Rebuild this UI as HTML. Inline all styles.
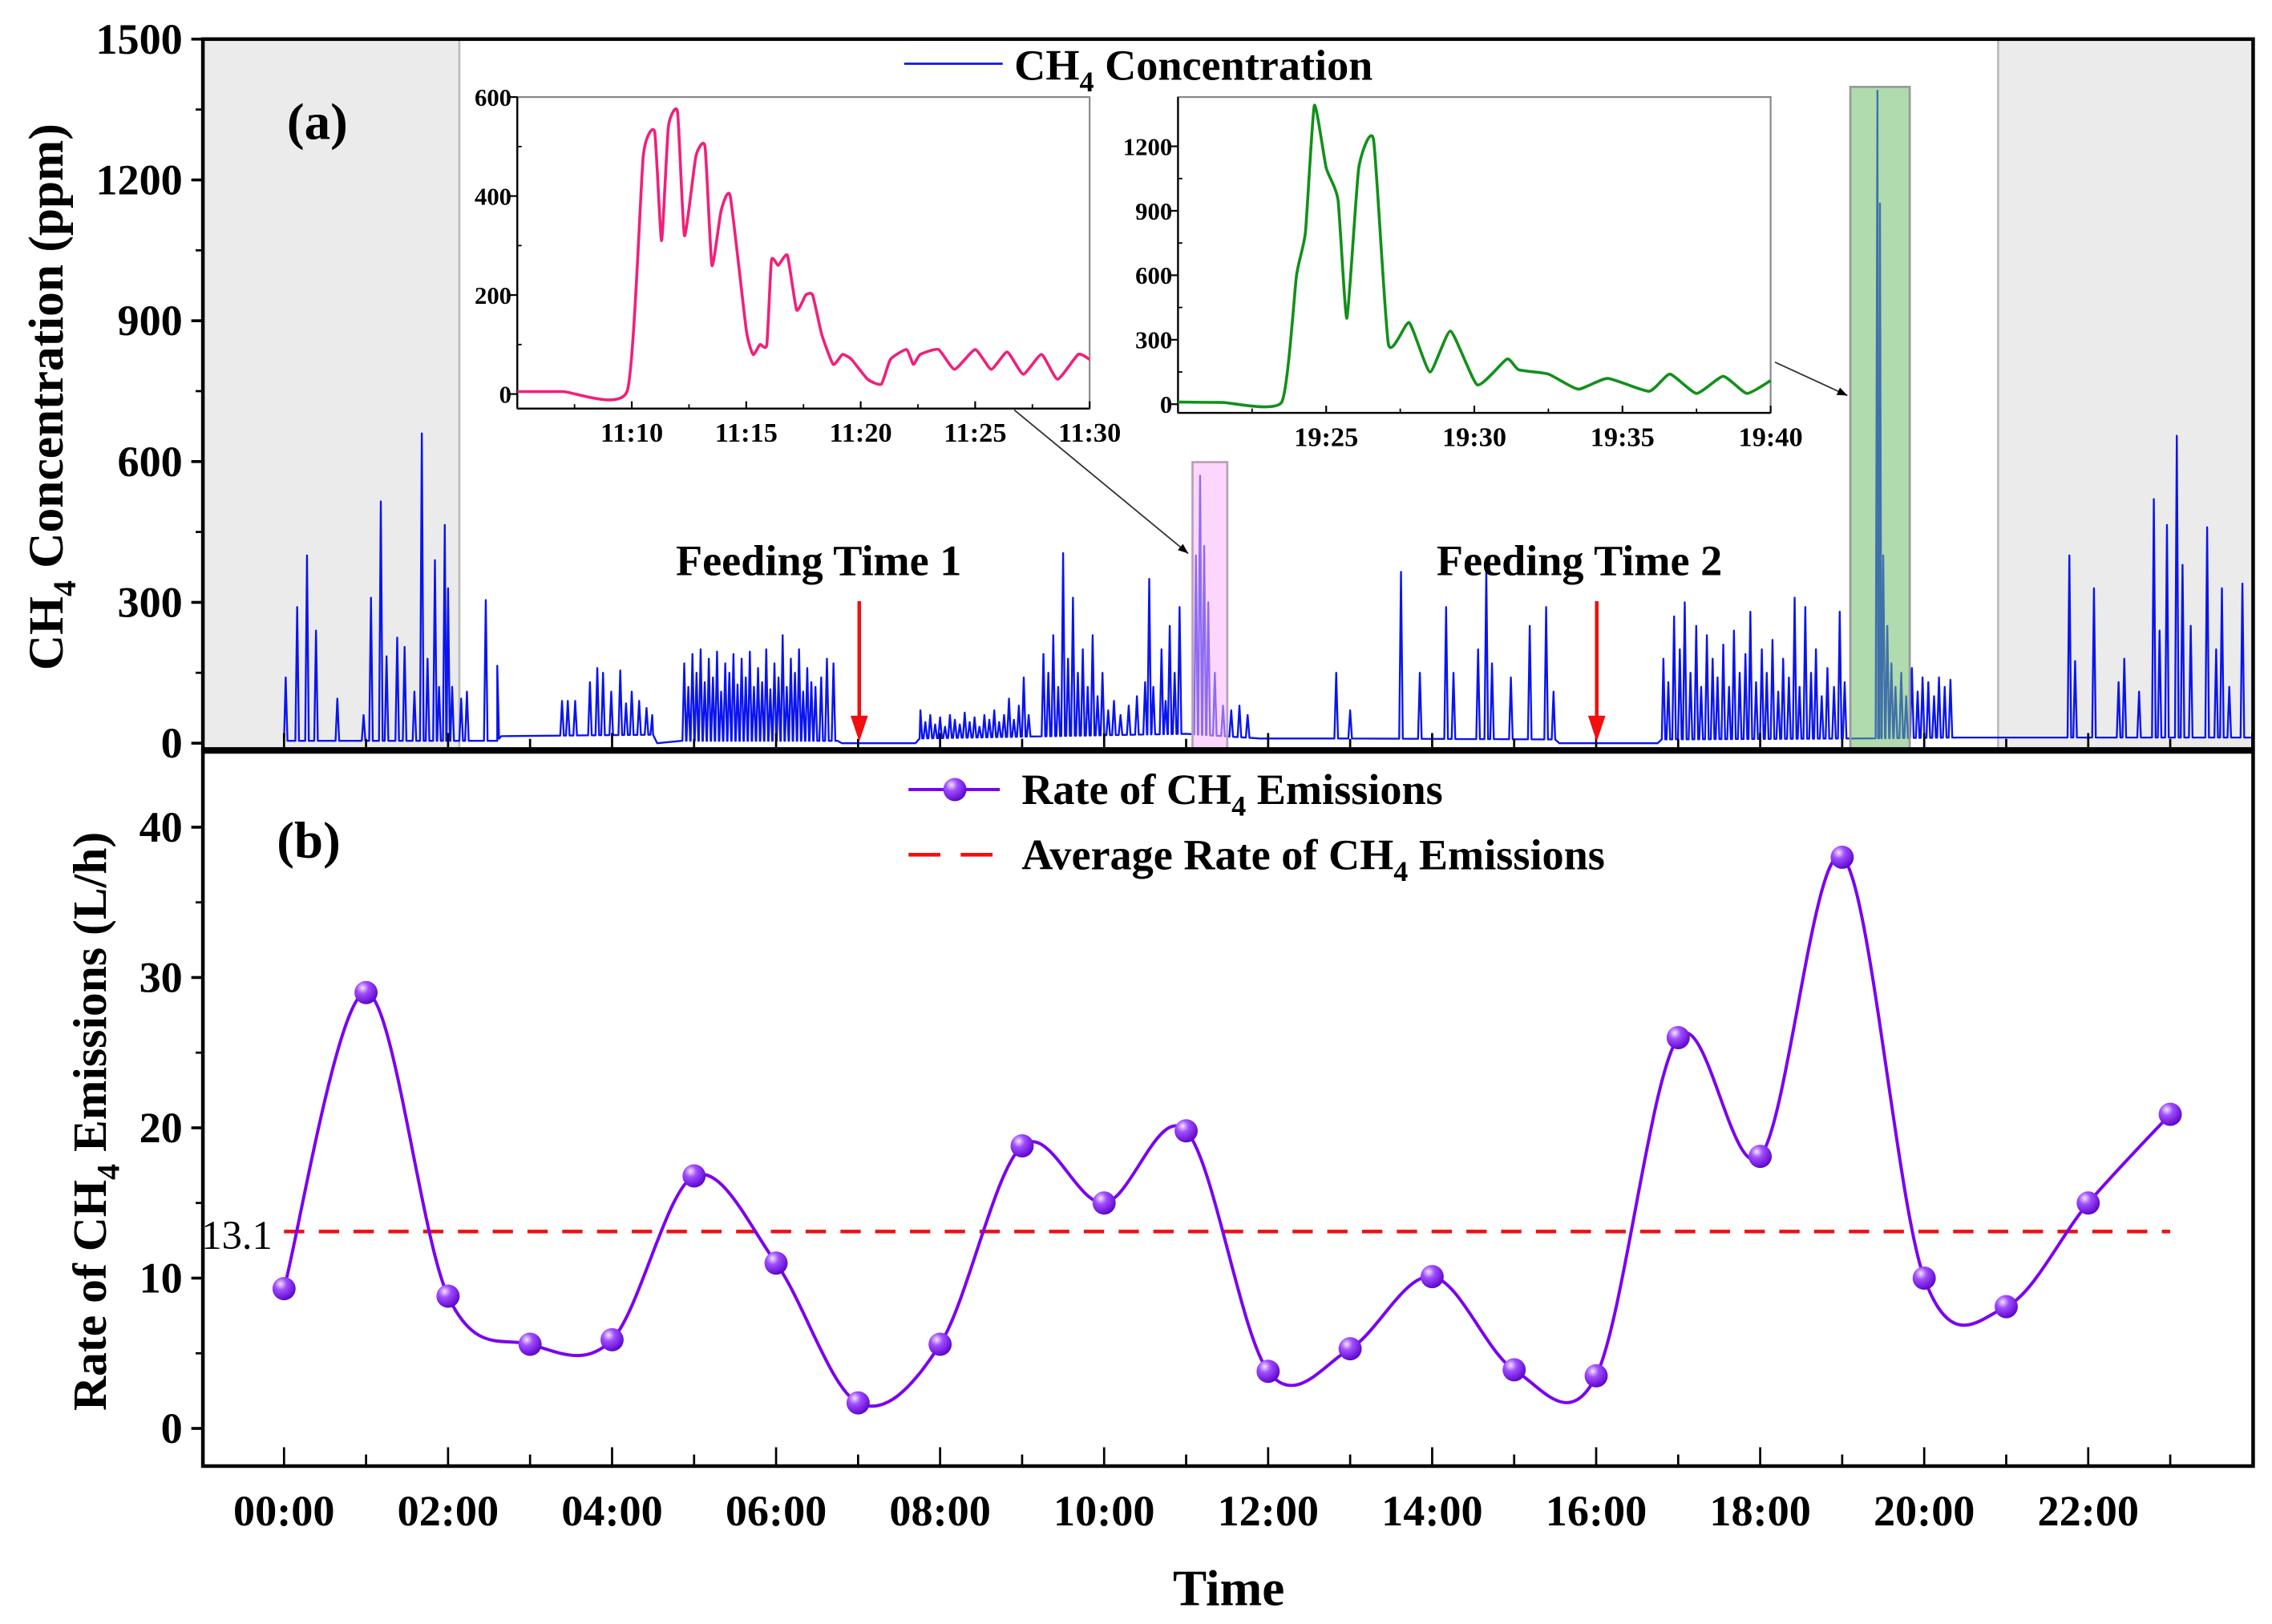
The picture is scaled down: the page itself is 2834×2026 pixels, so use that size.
<!DOCTYPE html>
<html><head><meta charset="utf-8"><style>
html,body{margin:0;padding:0;background:#fff}
svg{display:block}
text{font-family:"Liberation Serif",serif;font-weight:bold;fill:#000}
</style></head><body>
<svg id="chart" xmlns="http://www.w3.org/2000/svg" width="2834" height="2026" viewBox="0 0 1568 1121">
<g id="pa"></g>
<g id="pb"></g>
</svg>
<script>
// ---- Panel (a) data: CH4 concentration (ppm) ----
const baseHours = [0,2.6,2.65,4.5,4.55,4.85,6.75,6.8,7.7,7.75,11.0,11.9,12.9,15.5,15.55,16.75,16.8,19.1,20.4,21.6,24];
const baseValues = [5,5,15,18,0,5,5,0,0,10,20,10,10,8,0,0,8,10,12,12,12];
const spikeHours = [0.02,0.16,0.28,0.39,0.65,0.97,1.06,1.18,1.25,1.38,1.47,1.59,1.68,1.75,1.84,1.89,1.96,2.0,2.05,2.16,2.23,2.46,2.60,
3.39,3.46,3.55,3.73,3.82,3.89,3.99,4.10,4.17,4.24,4.33,4.42,4.49,
4.88,4.93,4.98,5.03,5.08,5.13,5.18,5.23,5.28,5.33,5.38,5.43,5.48,5.53,5.58,5.63,5.68,5.73,5.78,5.83,5.88,5.93,5.98,6.03,6.08,6.13,6.18,6.23,6.28,6.33,6.38,6.43,6.48,6.55,6.62,6.70,
7.76,7.82,7.88,7.94,8.00,8.06,8.12,8.18,8.24,8.30,8.36,8.42,8.48,8.54,8.60,8.66,8.72,8.78,8.84,8.90,8.96,9.02,9.08,
9.26,9.32,9.38,9.44,9.50,9.56,9.62,9.68,9.74,9.80,9.86,9.92,9.98,10.05,10.12,10.2,10.3,10.4,10.5,10.55,10.6,10.7,10.75,10.8,10.86,10.92,
11.12,11.17,11.22,11.27,11.35,11.45,11.55,11.65,11.75,
12.83,13.0,13.62,13.85,14.17,14.26,14.56,14.66,14.73,14.96,15.19,15.39,15.48,
16.82,16.88,16.95,17.02,17.08,17.15,17.22,17.28,17.35,17.42,17.48,17.55,17.62,17.68,17.75,17.82,17.88,17.95,18.02,18.08,18.15,18.22,18.28,18.35,18.42,18.48,18.55,18.62,18.68,18.75,18.82,18.9,18.97,19.03,
19.43,19.46,19.5,19.55,19.6,19.65,19.72,19.78,19.85,19.92,19.98,20.05,20.12,20.18,20.25,20.32,
21.77,21.84,22.07,22.37,22.44,22.62,22.8,22.87,22.96,23.08,23.15,23.25,23.45,23.56,23.63,23.72,23.88];
const spikeValues = [140,290,400,240,95,60,310,515,185,225,205,110,660,180,390,120,465,330,120,95,110,305,165,
90,90,90,130,160,150,110,155,85,110,90,75,60,
170,120,190,150,200,130,180,140,195,110,170,150,190,125,180,140,195,120,160,130,200,115,170,140,230,120,180,150,200,110,160,130,120,140,180,170,
70,45,60,40,55,35,60,50,40,65,45,55,35,60,50,70,45,60,95,50,80,140,60,
190,150,230,120,405,180,310,150,200,120,230,100,150,70,90,60,80,100,130,350,120,200,90,250,150,290,
400,570,420,300,150,80,70,80,60,
150,70,365,150,290,150,200,370,170,140,250,290,110,
180,130,270,200,300,150,250,120,230,180,140,210,120,240,150,190,280,130,200,150,220,110,180,140,310,120,290,150,200,100,160,120,280,130,
1390,1150,400,250,170,120,150,100,160,110,140,130,100,140,120,135,
400,175,330,130,180,110,520,240,465,655,380,250,460,200,330,120,340];
const yTicksA = [0,300,600,900,1200,1500];
const xTickLabels = ["00:00","02:00","04:00","06:00","08:00","10:00","12:00","14:00","16:00","18:00","20:00","22:00"];
// inset 1 (minutes after 11:00)
const in1Min = [5,7,9.8,10.5,11,11.3,11.6,12,12.3,12.8,13.2,13.5,13.9,14.3,15,15.3,15.6,15.9,16.1,16.4,16.8,17.2,17.6,17.9,18.3,18.8,19.2,19.6,20.3,20.9,21.3,22,22.3,22.6,23.4,24.1,25,25.7,26.4,27.1,27.9,28.6,29.5,30];
const in1Val = [5,5,6,480,530,310,540,570,320,480,500,260,370,400,130,80,100,100,270,260,280,170,200,200,120,60,80,70,30,20,70,90,60,80,90,50,90,50,85,40,80,30,80,70];
const in1YTicks = [0,200,400,600];
const in1XTicks = ["11:10","11:15","11:20","11:25","11:30"];
// inset 2 (minutes after 19:00)
const in2Min = [20,21.5,23.5,24.0,24.3,24.6,25.0,25.4,25.7,26.1,26.6,27.1,27.8,28.5,29.2,30.1,31.1,31.5,32.5,33.5,34.5,35.9,36.6,37.5,38.4,39.2,40];
const in2Val = [10,8,10,600,800,1390,1100,950,400,1100,1230,280,380,150,340,90,210,160,140,70,120,60,140,50,130,50,110];
const in2YTicks = [0,300,600,900,1200];
const in2XTicks = ["19:25","19:30","19:35","19:40"];
// ---- Panel (b) data: emission rate (L/h) ----
const rateHours = [0,1,2,3,4,5,6,7,8,9,10,11,12,13,14,15,16,17,18,19,20,21,22,23];
const rateValues = [9.3,29,8.8,5.6,5.9,16.8,11,1.7,5.6,18.8,15,19.8,3.8,5.3,10.1,3.9,3.5,26,18.1,38,10,8.1,15,20.9];
const averageRate = [13.1];
const yTicksB = [0,10,20,30,40];

const NS="http://www.w3.org/2000/svg";
function mk(tag,attrs,parent){const e=document.createElementNS(NS,tag);for(const k in attrs)e.setAttribute(k,attrs[k]);parent.appendChild(e);return e;}
const pa=document.getElementById('pa'), pb=document.getElementById('pb');
const L=140,R=1555;
const xH=h=>196+h*56.6;
const yA=v=>513-v*(486/1500);
const yB=v=>986-v*10.375;

const defs=mk('defs',{},document.getElementById('chart'));
const rg=mk('radialGradient',{id:'ball',cx:'0.35',cy:'0.3',r:'0.75'},defs);
mk('stop',{offset:'0','stop-color':'#f4e6ff'},rg);mk('stop',{offset:'0.35','stop-color':'#a04dff'},rg);mk('stop',{offset:'1','stop-color':'#5a00c8'},rg);
const mkr=mk('marker',{id:'ah',viewBox:'0 0 10 10',refX:'10',refY:'5',markerWidth:'7',markerHeight:'7',orient:'auto-start-reverse'},defs);
mk('path',{d:'M0,1 L10,5 L0,9 z',fill:'#000'},mkr);

let e=mk('rect',{x:L,y:27,width:177,height:490,fill:'#ebebeb',stroke:'#bbb','stroke-width':1.5},pa);

e=mk('rect',{x:1379,y:27,width:176,height:490,fill:'#ebebeb',stroke:'#bbb','stroke-width':1.5},pa);


function baseAt(h){for(let i=0;i<baseHours.length-1;i++){if(h>=baseHours[i]&&h<=baseHours[i+1]){const t=(h-baseHours[i])/(baseHours[i+1]-baseHours[i]);return baseValues[i]+t*(baseValues[i+1]-baseValues[i]);}}return baseValues[baseValues.length-1];}
let pts=[];for(let i=0;i<baseHours.length;i++)pts.push([baseHours[i],baseValues[i]]);
const hw=0.022;
for(let i=0;i<spikeHours.length;i++){const h=spikeHours[i];pts.push([h-hw,baseAt(h-hw)]);pts.push([h,spikeValues[i]]);pts.push([h+hw,baseAt(h+hw)]);}
pts.sort((a,b)=>a[0]-b[0]);
e=mk('path',{d:'M'+pts.map(p=>xH(Math.max(0,Math.min(24,p[0]))).toFixed(2)+','+yA(p[1]).toFixed(2)).join('L'),fill:'none',stroke:'#0a14f0','stroke-width':1.3,'stroke-linejoin':'round'},pa);


e=mk('rect',{x:823,y:319,width:24,height:198,fill:'rgba(250,180,250,0.55)',stroke:'#b8a0b8','stroke-width':1.5},pa);

e=mk('rect',{x:1277,y:60,width:41,height:457,fill:'rgba(110,190,110,0.55)',stroke:'#999','stroke-width':1.5},pa);


e=mk('rect',{x:L,y:27,width:R-L,height:490,fill:'none',stroke:'#000','stroke-width':2.5},pa);

for(const v of yTicksA){mk('line',{x1:L,x2:L-8,y1:yA(v),y2:yA(v),stroke:'#000','stroke-width':2},pa);
 e=mk('text',{x:126,y:yA(v)+10,'text-anchor':'end','font-size':30},pa);e.textContent=v;
 }
for(let v=150;v<1500;v+=300)mk('line',{x1:L,x2:L-5,y1:yA(v),y2:yA(v),stroke:'#000','stroke-width':1.5},pa);
for(let h=0;h<=24;h++)mk('line',{x1:xH(h),x2:xH(h),y1:517,y2:h%2?510:506,stroke:'#000','stroke-width':1.5},pa);
e=mk('text',{transform:'translate(43,274) rotate(-90)','text-anchor':'middle','font-size':34},pa);
e.innerHTML='CH<tspan font-size="22" dy="9">4</tspan><tspan dy="-9"> Concentration (ppm)</tspan>';

e=mk('text',{x:198,y:96,'font-size':36},pa);e.textContent='(a)';
const lgA=mk('g',{},pa);
mk('line',{x1:624,x2:692,y1:44,y2:44,stroke:'#0a14f0','stroke-width':1.5},lgA);
e=mk('text',{x:700,y:55,'font-size':30},lgA);e.innerHTML='CH<tspan font-size="20" dy="8">4</tspan><tspan dy="-8"> Concentration</tspan>';

function feed(label,xc,xa,name){const g=mk('g',{},pa);
 const t=mk('text',{x:xc,y:397,'text-anchor':'middle','font-size':30},g);t.textContent=label;
 mk('line',{x1:xa,x2:xa,y1:415,y2:496,stroke:'#f01010','stroke-width':2.5},g);
 mk('path',{d:`M${xa-6},494 L${xa+6},494 L${xa},512 z`,fill:'#f01010'},g);}
feed('Feeding Time 1',565,593,'feeding-time-1');
feed('Feeding Time 2',1090,1102,'feeding-time-2');

function smooth(P,k){k=k||6;let d='M'+P[0][0].toFixed(2)+','+P[0][1].toFixed(2);
 for(let i=0;i<P.length-1;i++){const p0=P[i-1]||P[i],p1=P[i],p2=P[i+1],p3=P[i+2]||P[i+1];
  const c1=[p1[0]+(p2[0]-p0[0])/k,p1[1]+(p2[1]-p0[1])/k],c2=[p2[0]-(p3[0]-p1[0])/k,p2[1]-(p3[1]-p1[1])/k];
  d+=`C${c1[0].toFixed(2)},${c1[1].toFixed(2)} ${c2[0].toFixed(2)},${c2[1].toFixed(2)} ${p2[0].toFixed(2)},${p2[1].toFixed(2)}`;}return d;}

function inset(cfg){const g=mk('g',{},pa);
 const {x0,x1,y0,y1,m0,m1,vmax,color}=cfg;
 const fx=m=>x0+(m-m0)/(m1-m0)*(x1-x0), fy=v=>cfg.yz-(v/vmax)*(cfg.yz-cfg.ytop);
 mk('rect',{x:x0,y:y0,width:x1-x0,height:y1-y0,fill:'#fff',stroke:'#888','stroke-width':1.2},g);
 mk('line',{x1:x0,x2:x0,y1:y0,y2:y1,stroke:'#000','stroke-width':1.3},g);
 mk('line',{x1:x0,x2:x1,y1:y1,y2:y1,stroke:'#000','stroke-width':1.3},g);
 cfg.yt.forEach(v=>{mk('line',{x1:x0,x2:x0-5,y1:fy(v),y2:fy(v),stroke:'#000','stroke-width':1.2},g);
  const t=mk('text',{x:x0-4,y:fy(v)+6,'text-anchor':'end','font-size':17},g);t.textContent=v;
  
  const hv=v+cfg.yt[1]/2;if(hv<vmax*1.02)mk('line',{x1:x0,x2:x0+3,y1:fy(hv),y2:fy(hv),stroke:'#000','stroke-width':1},g);});
 cfg.xt.forEach(lbl=>{const p=lbl.split(':');const m=+p[1];const xx=fx(m);
  mk('line',{x1:xx,x2:xx,y1:y1,y2:y1-5,stroke:'#000','stroke-width':1.2},g);
  mk('line',{x1:xx-(fx(m)-fx(m-2.5)),x2:xx-(fx(m)-fx(m-2.5)),y1:y1,y2:y1-3,stroke:'#000','stroke-width':1},g);
  const t=mk('text',{x:xx,y:y1+23,'text-anchor':'middle','font-size':19},g);t.textContent=lbl;
  });
 const P=cfg.mins.map((m,i)=>[fx(m),fy(cfg.vals[i])]);
 const l=mk('path',{d:smooth(P,12),fill:'none',stroke:color,'stroke-width':2},g);
 }
inset({name:'inset-feeding-1',x0:357,x1:752,y0:67,y1:282,yz:272,ytop:67,m0:5,m1:30,vmax:600,color:'#f0207a',yt:in1YTicks,xt:in1XTicks,mins:in1Min,vals:in1Val});
inset({name:'inset-feeding-2',x0:813,x1:1222,y0:67,y1:285,yz:279,ytop:101,m0:20,m1:40,vmax:1200,color:'#12901a',yt:in2YTicks,xt:in2XTicks,mins:in2Min,vals:in2Val});
e=mk('line',{x1:700,y1:283,x2:820,y2:382,stroke:'#333','stroke-width':1,'marker-end':'url(#ah)'},pa);

e=mk('line',{x1:1225,y1:250,x2:1275,y2:273,stroke:'#333','stroke-width':1,'marker-end':'url(#ah)'},pa);


// ---- Panel b ----
e=mk('rect',{x:L,y:519,width:R-L,height:493,fill:'none',stroke:'#000','stroke-width':2.5},pb);

for(const v of yTicksB){mk('line',{x1:L,x2:L-8,y1:yB(v),y2:yB(v),stroke:'#000','stroke-width':2},pb);
 e=mk('text',{x:126,y:yB(v)+10,'text-anchor':'end','font-size':30},pb);e.textContent=v;
 }
for(let v=5;v<45;v+=10)mk('line',{x1:L,x2:L-5,y1:yB(v),y2:yB(v),stroke:'#000','stroke-width':1.5},pb);
for(let h=0;h<=23;h++)mk('line',{x1:xH(h),x2:xH(h),y1:1012,y2:h%2?1004:999,stroke:'#000','stroke-width':1.5},pb);
xTickLabels.forEach((lbl,i)=>{const t=mk('text',{x:xH(i*2),y:1053,'text-anchor':'middle','font-size':30},pb);t.textContent=lbl;
 });
e=mk('text',{x:848,y:1108,'text-anchor':'middle','font-size':35},pb);e.textContent='Time';

e=mk('text',{transform:'translate(73,774) rotate(-90)','text-anchor':'middle','font-size':33},pb);
e.innerHTML='Rate of CH<tspan font-size="22" dy="9">4</tspan><tspan dy="-9"> Emissions (L/h)</tspan>';

e=mk('text',{x:191,y:592,'font-size':36},pb);e.textContent='(b)';
e=mk('line',{x1:xH(0),x2:xH(23),y1:yB(averageRate[0]),y2:yB(averageRate[0]),stroke:'#f01010','stroke-width':2.5,'stroke-dasharray':'14 10'},pb);

e=mk('text',{x:139,y:yB(averageRate[0])+12,'font-size':28,style:'font-weight:normal'},pb);e.textContent=averageRate[0].toFixed(1);

const RP=rateHours.map((h,i)=>[xH(h),yB(rateValues[i])]);
e=mk('path',{d:smooth(RP),fill:'none',stroke:'#7a00f0','stroke-width':2.2},pb);

RP.forEach(p=>{const c=mk('circle',{cx:p[0],cy:p[1],r:8,fill:'url(#ball)'},pb);
 });
const lgB=mk('g',{},pb);
mk('line',{x1:627,x2:690,y1:545,y2:545,stroke:'#7a00f0','stroke-width':2.2},lgB);
mk('circle',{cx:659,cy:545,r:8,fill:'url(#ball)'},lgB);
e=mk('text',{x:705,y:555,'font-size':30},lgB);e.innerHTML='Rate of CH<tspan font-size="20" dy="8">4</tspan><tspan dy="-8"> Emissions</tspan>';
mk('line',{x1:627,x2:690,y1:590,y2:590,stroke:'#f01010','stroke-width':2.5,'stroke-dasharray':'22 14'},lgB);
e=mk('text',{x:705,y:600,'font-size':30},lgB);e.innerHTML='Average Rate of CH<tspan font-size="20" dy="8">4</tspan><tspan dy="-8"> Emissions</tspan>';
</script>
</body></html>
